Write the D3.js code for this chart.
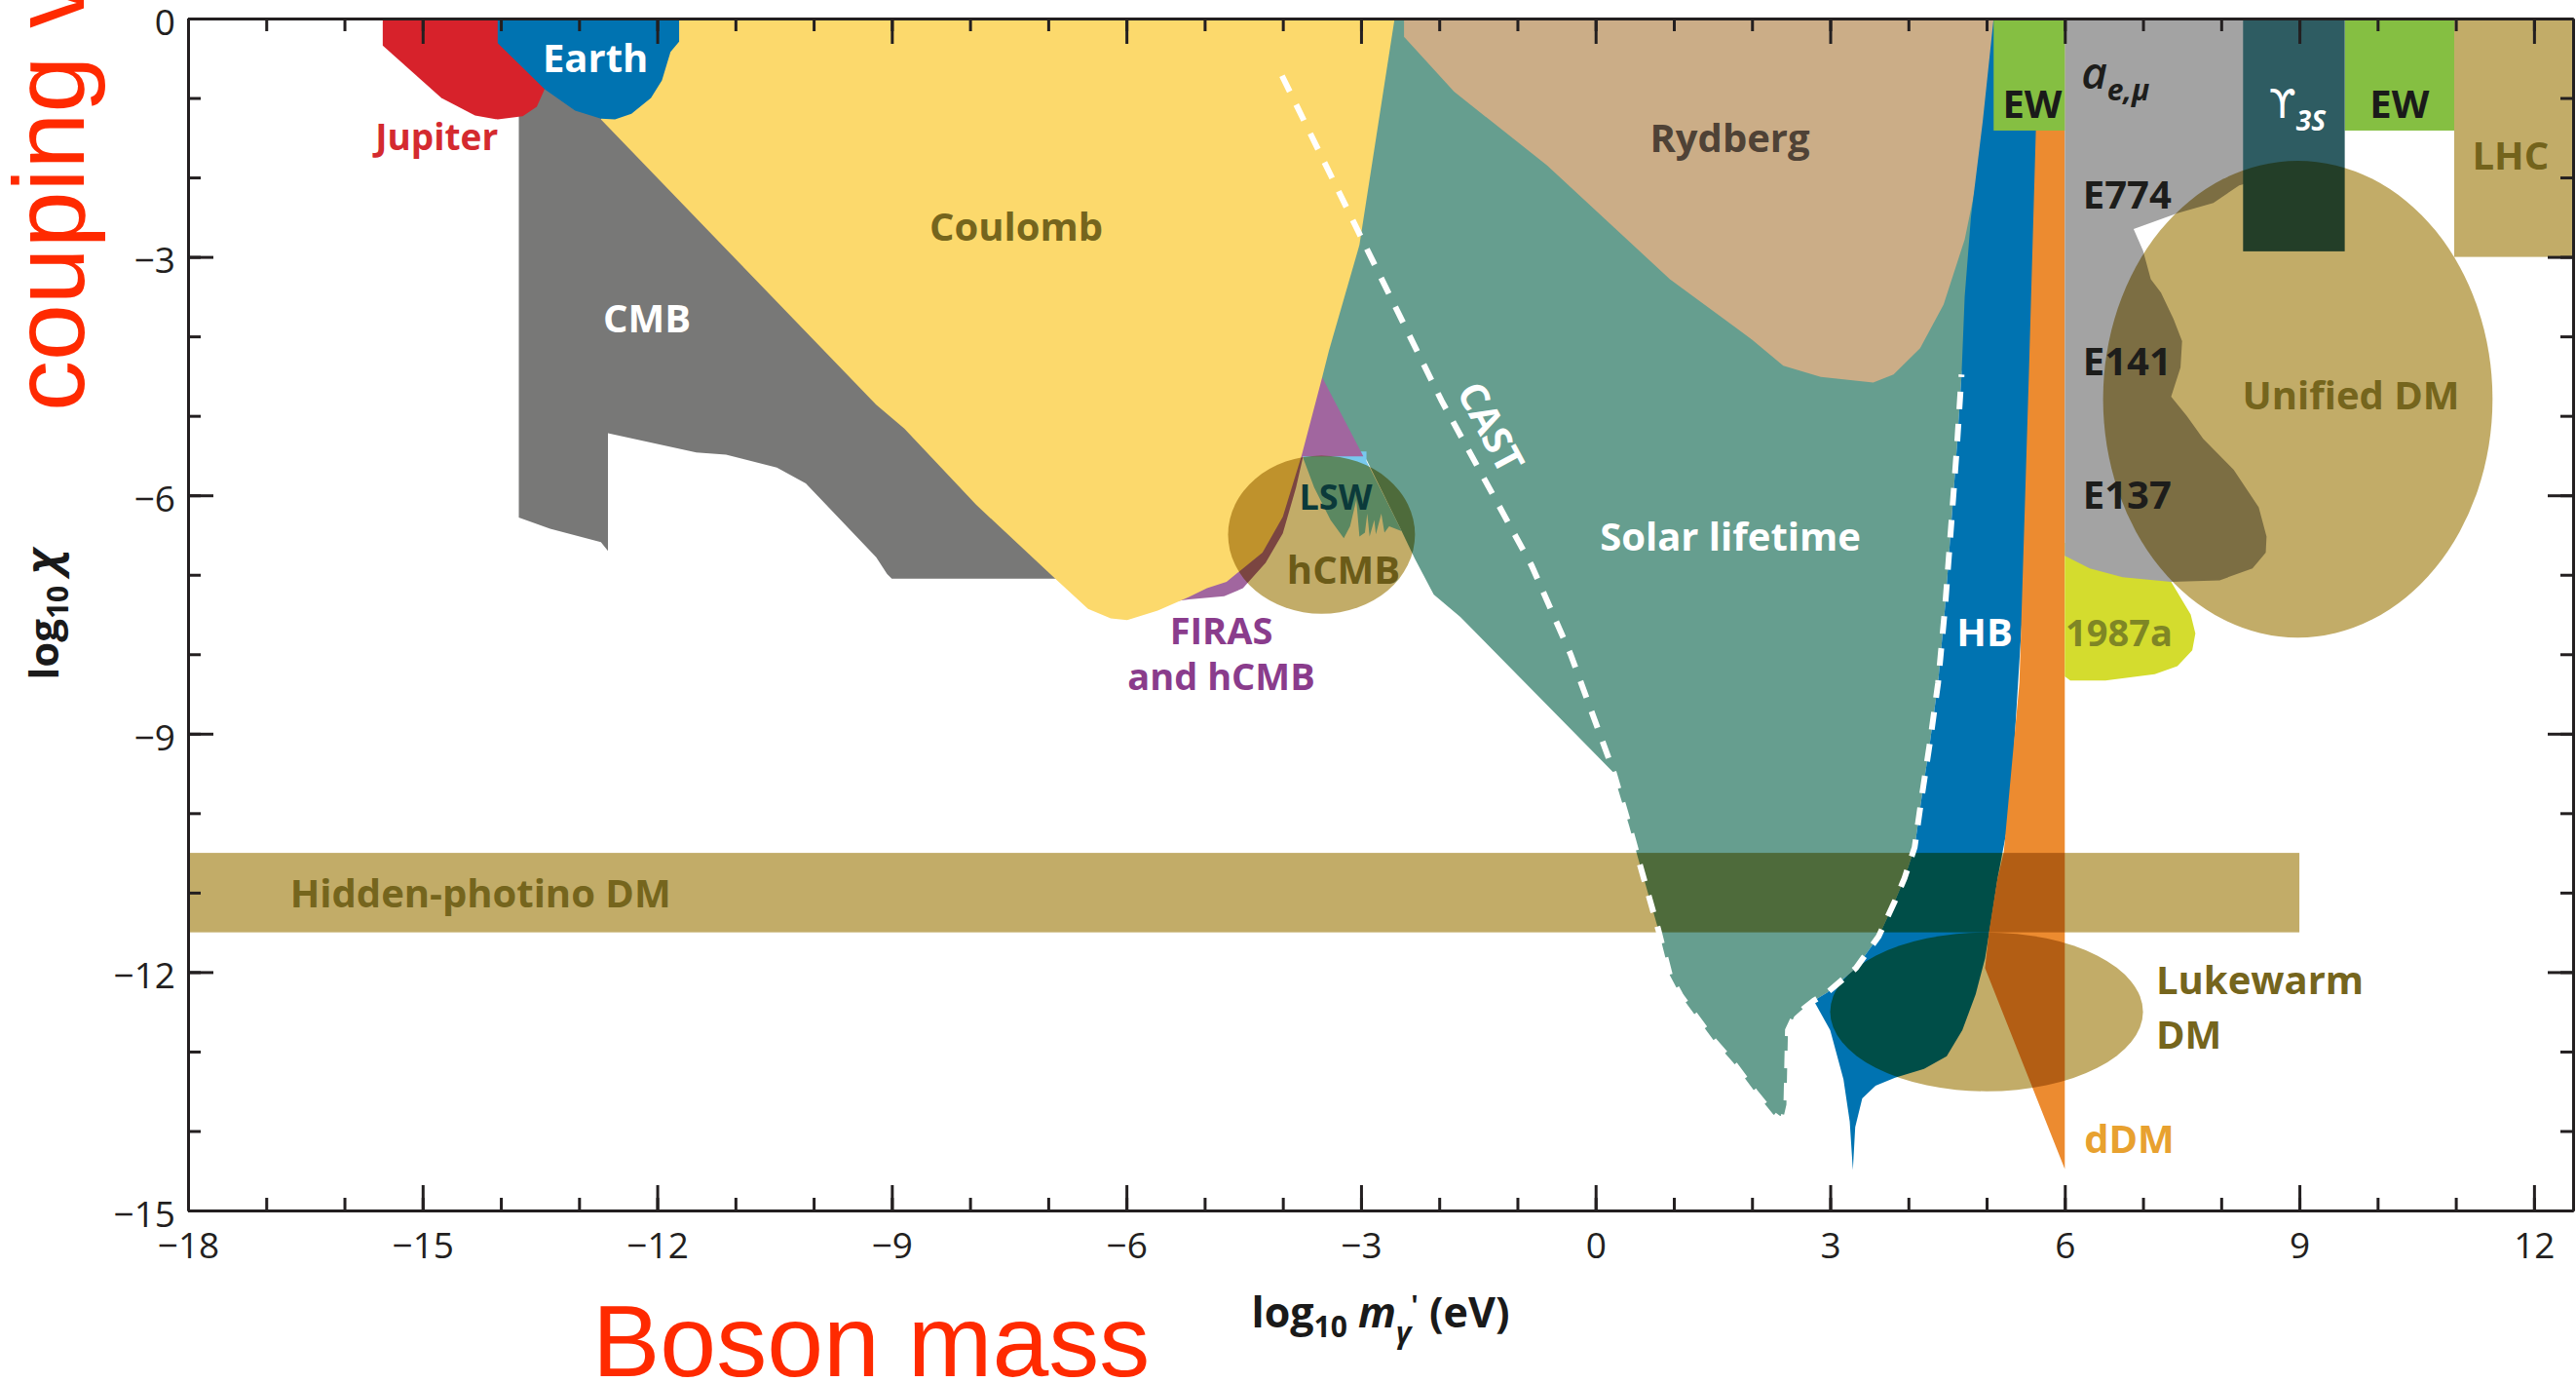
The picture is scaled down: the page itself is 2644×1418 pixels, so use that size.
<!DOCTYPE html>
<html>
<head>
<meta charset="utf-8">
<script src="https://cdn.jsdelivr.net/npm/d3@7"></script>
<style>
  html, body { margin: 0; padding: 0; background: #fff; }
  svg { display: block; }
</style>
</head>
<body>
<svg id="chart" width="2644" height="1418"></svg>
<script>
// ---- Excluded regions in the (log10 m, log10 chi) plane, as outlines ----
const jupiter = [[-15.51,0],[-13.3,0],[-13.44,-0.89],[-13.54,-1.11],[-13.72,-1.23],[-14.04,-1.27],[-14.33,-1.22],[-14.76,-1.0],[-15.51,-0.34]];
const earth = [[-14.04,0],[-11.72,0],[-11.72,-0.29],[-11.83,-0.42],[-11.94,-0.78],[-12.08,-1.0],[-12.33,-1.2],[-12.54,-1.27],[-12.72,-1.26],[-13.05,-1.16],[-13.44,-0.89],[-14.04,-0.31]];
const cmb = [[-13.77,-0.85],[-12.4,-0.95],[-9.0,-4.7],[-8.5,-5.4],[-7.5,-6.4],[-6.7,-7.05],[-9.0,-7.05],[-9.06,-6.99],[-9.2,-6.78],[-10.1,-5.85],[-10.47,-5.65],[-11.12,-5.49],[-11.5,-5.46],[-12.63,-5.22],[-12.63,-6.7],[-12.72,-6.59],[-13.37,-6.42],[-13.77,-6.28]];
const coulomb = [[-12.3,0],[-2.57,0],[-3.02,-2.85],[-3.41,-4.18],[-3.5,-4.53],[-3.76,-5.5],[-4.0,-6.27],[-4.26,-6.72],[-4.72,-7.09],[-4.97,-7.17],[-5.2,-7.28],[-5.6,-7.45],[-5.99,-7.57],[-6.2,-7.55],[-6.49,-7.43],[-6.91,-7.05],[-7.92,-6.12],[-8.84,-5.16],[-9.2,-4.86],[-12.72,-1.27],[-12.6,-1.0]];
const firas = [[-3.52,-4.45],[-3.49,-4.53],[-2.97,-5.51],[-3.74,-5.51],[-3.83,-5.9],[-4.0,-6.48],[-4.22,-6.85],[-4.51,-7.17],[-4.75,-7.27],[-5.2,-7.31],[-5.5,-7.35],[-4.8,-6.9],[-4.2,-6.2],[-3.8,-5.2]];
const lsw = [[-3.74,-5.45],[-2.93,-5.45],[-2.93,-5.57],[-2.48,-6.45],[-2.64,-6.39],[-2.7,-6.47],[-2.74,-6.23],[-2.81,-6.49],[-2.83,-6.31],[-2.89,-6.52],[-2.92,-6.23],[-2.95,-6.47],[-3.02,-6.52],[-3.06,-6.06],[-3.14,-6.39],[-3.22,-6.54],[-3.39,-6.31],[-3.6,-5.9],[-3.74,-5.53]];
const rydberg = [[-2.45,0],[5.09,0],[5.09,-0.7],[4.95,-1.68],[4.72,-2.78],[4.45,-3.6],[4.15,-4.15],[3.81,-4.48],[3.55,-4.58],[2.88,-4.51],[2.4,-4.37],[2.0,-4.04],[0.95,-3.28],[-0.62,-1.85],[-1.81,-0.92],[-2.45,-0.23]];
// horizontal-branch boundary, shared by the solar and HB regions
const hbEdge = [[4.68,-4.48],[4.62,-5.4],[4.55,-6.34],[4.47,-7.4],[4.38,-8.36],[4.28,-9.08],[4.17,-9.8],[4.08,-10.43],[3.95,-10.82],[3.83,-11.1],[3.62,-11.55],[3.33,-11.95],[2.96,-12.26]];
const solarTail = [[2.79,-12.36],[2.62,-12.49],[2.54,-12.56],[2.46,-12.73],[2.44,-13.67],[2.39,-13.88],[2.27,-13.79],[2.04,-13.51],[1.76,-13.14],[1.51,-12.86],[1.09,-12.3],[0.95,-12.04],[0.8,-11.46],[0.53,-10.52],[0.43,-10.16],[0.22,-9.48],[-1.73,-7.53],[-2.07,-7.25],[-2.31,-6.8],[-2.48,-6.45],[-2.93,-5.55],[-3.1,-5.48],[-3.6,-4.5],[-3.1,-2.85],[-2.65,0]];
const solarTop = [[5.2,0],[5.0,-2.0],[4.8,-3.6]];
const hbBand = [[5.09,0],[5.8,0],[5.55,-6],[5.3,-10],[5.14,-10.82],[5.06,-11.34],[4.98,-11.83],[4.86,-12.28],[4.69,-12.73],[4.49,-13.06],[4.2,-13.22],[3.83,-13.33],[3.58,-13.43],[3.41,-13.59],[3.32,-13.95],[3.29,-14.49],[3.25,-13.88],[3.17,-13.35],[3.0,-12.73],[2.79,-12.36]];
const hbTop = [[4.72,-3.5],[4.8,-2.5],[4.95,-1.3]];
const dDM = [[5.65,0],[6.0,0],[6.0,-14.48],[4.98,-11.95],[5.03,-11.5],[5.14,-10.82],[5.22,-10.49],[5.42,-8.36],[5.54,-4.5],[5.63,-1.41]];
const sn1987a = [[6.0,-6.6],[7.3,-6.9],[7.36,-7.09],[7.61,-7.5],[7.67,-7.74],[7.63,-7.95],[7.44,-8.15],[7.15,-8.25],[6.52,-8.33],[6.07,-8.33],[6.0,-8.28]];
const beamDump = [[6.0,0],[8.6,0],[8.6,-2.0],[8.23,-2.1],[7.9,-2.32],[7.44,-2.45],[6.88,-2.65],[7.0,-2.92],[7.1,-3.28],[7.23,-3.45],[7.39,-3.78],[7.5,-4.06],[7.48,-4.39],[7.36,-4.76],[7.56,-5.0],[7.77,-5.29],[8.16,-5.68],[8.48,-6.15],[8.58,-6.52],[8.57,-6.72],[8.4,-6.92],[7.98,-7.07],[7.36,-7.09],[6.74,-7.03],[6.32,-6.92],[6.0,-6.76]];
// rectangular bounds: [xMin, xMax, yMax, yMin]
const ewLow = [5.09, 6.0, 0, -1.41];
const ewHigh = [9.58, 10.98, 0, -1.41];
const upsilon3S = [8.28, 9.58, 0, -2.93];
const lhc = [10.98, 12.5, 0, -3.0];
const hiddenPhotino = [-18, 9, -10.5, -11.5];
// dark-matter ellipses: [centre x, centre y, half-width, half-height]
const hcmbDisc = [-3.505, -6.495, 1.195, 0.995];
const lukewarmDM = [5.0, -12.5, 2.0, 1.0];
const unifiedDM = [8.98, -4.79, 2.49, 3.0];
// CAST sensitivity curve (dashed)
const castCurve = [[-4.01,-0.72],[-3.04,-2.67],[-1.97,-4.81],[-0.82,-6.88],[-0.32,-8.0],[0.22,-9.45],[0.43,-10.16],[0.53,-10.52],[0.8,-11.46],[0.95,-12.04],[1.09,-12.3],[1.51,-12.86],[1.76,-13.14],[2.04,-13.51],[2.27,-13.79],[2.39,-13.88],[2.44,-13.67],[2.46,-12.73],[2.54,-12.56],[2.62,-12.49],[2.79,-12.36]];

// axis ticks
const xMajor = d3.range(-18, 13, 3);
const xMinor = d3.range(-18, 13, 1);
const yMajor = d3.range(-15, 1, 3);
const yMinor = d3.range(-15, 1, 1);

// region names and anchor points (data units)
const labelText = ["Jupiter","Earth","CMB","Coulomb","Rydberg","LSW","hCMB","FIRAS","and hCMB","Solar lifetime","HB","1987a","E774","E141","E137","EW","EW","LHC","Unified DM","Hidden-photino DM","Lukewarm","DM","dDM"];
const labelX = [-14.82,-12.79,-12.13,-7.41,1.717,-3.323,-3.223,-4.787,-4.787,1.723,4.975,6.694,6.23,6.23,6.23,5.585,10.28,11.70,9.66,-14.26,7.167,7.167,6.825];
const labelY = [-1.656,-0.671,-3.955,-2.796,-1.68,-6.18,-7.114,-7.87,-8.45,-6.697,-7.899,-7.899,-2.392,-4.489,-6.169,-1.256,-1.256,-1.901,-4.913,-11.186,-12.283,-12.958,-14.276];

// ---- drawing ----
const svg = d3.select("#chart");
const x = d3.scaleLinear().domain([-18, 12.5]).range([193, 2641]);
const y = d3.scaleLinear().domain([0, -15]).range([19, 1242]);
const line = d3.line().x(d => x(d[0])).y(d => y(d[1]));
const closed = pts => line(pts) + "Z";

svg.append("defs").append("clipPath").attr("id", "frame")
  .append("rect").attr("x", x(-18)).attr("y", y(0))
  .attr("width", x(12.5) - x(-18)).attr("height", y(-15) - y(0));

const plot = svg.append("g").attr("clip-path", "url(#frame)");

function region(pts, fill, multiply) {
  const p = plot.append("path").attr("d", closed(pts)).attr("fill", fill);
  if (multiply) p.style("mix-blend-mode", "multiply");
  return p;
}
function box(b, fill, multiply) {
  const r = plot.append("rect")
    .attr("x", x(b[0])).attr("width", x(b[1]) - x(b[0]))
    .attr("y", y(b[2])).attr("height", y(b[3]) - y(b[2]))
    .attr("fill", fill);
  if (multiply) r.style("mix-blend-mode", "multiply");
}
function oval(e, fill) {
  plot.append("ellipse")
    .attr("cx", x(e[0])).attr("cy", y(e[1]))
    .attr("rx", x(e[0] + e[2]) - x(e[0]))
    .attr("ry", y(e[1] - e[3]) - y(e[1]))
    .attr("fill", fill).style("mix-blend-mode", "multiply");
}

const OLIVE = "#c2ac68";

region(solarTop.concat(hbEdge, solarTail), "#669e8f");       // Solar lifetime
region(rydberg, "#cbad87");                                   // Rydberg
region(lsw, "#78c9ee");                                       // LSW
region(cmb, "#787877");                                       // CMB
region(firas, "#a1669f");                                     // FIRAS and hCMB
region(coulomb, "#fcd96c");                                   // Coulomb
region(jupiter, "#d7222b");                                   // Jupiter
region(earth, "#0073b1");                                     // Earth
region(hbBand.concat(hbEdge.slice().reverse(), hbTop), "#0073b1"); // HB
region(dDM, "#ec8b30");                                       // dDM
region(sn1987a, "#d4dc2e");                                   // 1987a
region(beamDump, "#a3a3a3");                                  // a_e,mu / E774 / E141 / E137
box(ewLow, "#85bf42");
box(ewHigh, "#85bf42");
box(upsilon3S, "#2e5c62");
box(lhc, OLIVE);
oval(hcmbDisc, OLIVE);
box(hiddenPhotino, OLIVE, true);
oval(lukewarmDM, OLIVE);
oval(unifiedDM, OLIVE);

// dashed CAST and HB boundaries
plot.append("path")
  .attr("d", line(castCurve.concat(hbEdge.slice().reverse())))
  .attr("fill", "none").attr("stroke", "#fff")
  .attr("stroke-width", 6).attr("stroke-dasharray", "18 15");

// ---- axes (ticks on all four sides, pointing inward) ----
const INK = "#231f20";
function dressAxis(g) {
  g.attr("font-family", "'Open Sans', 'DejaVu Sans', sans-serif").attr("font-size", 37);
  g.select(".domain").attr("stroke", INK).attr("stroke-width", 3);
  g.selectAll(".tick line").attr("stroke", INK).attr("stroke-width", 3);
  g.selectAll(".tick text").attr("fill", INK);
}
const axes = svg.append("g");
const frameBottom = y(-15), frameTop = y(0), frameLeft = x(-18), frameRight = x(12.5);

axes.append("g").attr("transform", `translate(0,${frameBottom})`)
  .call(d3.axisBottom(x).tickValues(xMinor).tickSizeInner(-13).tickSizeOuter(0).tickFormat(""))
  .call(dressAxis);
axes.append("g").attr("transform", `translate(0,${frameBottom})`)
  .call(d3.axisBottom(x).tickValues(xMajor).tickSizeInner(-26).tickSizeOuter(0).tickPadding(23))
  .call(dressAxis);
axes.append("g").attr("transform", `translate(0,${frameTop})`)
  .call(d3.axisTop(x).tickValues(xMinor).tickSizeInner(-13).tickSizeOuter(0).tickFormat(""))
  .call(dressAxis);
axes.append("g").attr("transform", `translate(0,${frameTop})`)
  .call(d3.axisTop(x).tickValues(xMajor).tickSizeInner(-26).tickSizeOuter(0).tickFormat(""))
  .call(dressAxis);
axes.append("g").attr("transform", `translate(${frameLeft},0)`)
  .call(d3.axisLeft(y).tickValues(yMinor).tickSizeInner(-13).tickSizeOuter(0).tickFormat(""))
  .call(dressAxis);
axes.append("g").attr("transform", `translate(${frameLeft},0)`)
  .call(d3.axisLeft(y).tickValues(yMajor).tickSizeInner(-26).tickSizeOuter(0).tickPadding(13))
  .call(dressAxis)
  .call(g => g.selectAll(".tick text").attr("dy", "0.44em"));
axes.append("g").attr("transform", `translate(${frameRight},0)`)
  .call(d3.axisRight(y).tickValues(yMinor).tickSizeInner(-13).tickSizeOuter(0).tickFormat(""))
  .call(dressAxis);
axes.append("g").attr("transform", `translate(${frameRight},0)`)
  .call(d3.axisRight(y).tickValues(yMajor).tickSizeInner(-26).tickSizeOuter(0).tickFormat(""))
  .call(dressAxis);

// axis titles
const FONT = "'Open Sans', 'DejaVu Sans', sans-serif";
const xt = svg.append("text").attr("x", (frameLeft + frameRight) / 2).attr("y", 1362)
  .attr("text-anchor", "middle").attr("font-family", FONT).attr("font-weight", 700)
  .attr("font-size", 43).attr("fill", "#1a1a1a");
xt.append("tspan").text("log");
xt.append("tspan").attr("font-size", 30).attr("dy", 10).text("10");
xt.append("tspan").attr("dy", -10).attr("font-style", "italic").text(" m");
xt.append("tspan").attr("font-size", 30).attr("dy", 16).attr("font-style", "italic").text("γ");
xt.append("tspan").attr("font-size", 28).attr("dy", -28).text("'");
xt.append("tspan").attr("dy", 12).text(" (eV)");

const yt = svg.append("text").attr("transform", `translate(60,${(frameTop + frameBottom) / 2}) rotate(-90)`)
  .attr("text-anchor", "middle").attr("font-family", FONT).attr("font-weight", 700)
  .attr("font-size", 42).attr("fill", "#1a1a1a");
yt.append("tspan").text("log");
yt.append("tspan").attr("font-size", 30).attr("dy", 10).text("10");
yt.append("tspan").attr("dy", -10).attr("font-style", "italic").attr("font-size", 46).text(" χ");

// ---- region labels ----
const labelColor = ["#d42a2f","#ffffff","#ffffff","#75651d","#4f4236","#0b3a3a","#6b5b18","#8a3c8c","#8a3c8c","#ffffff","#ffffff","#7f8625","#1d1d1b","#1d1d1b","#1d1d1b","#1a1a1a","#1a1a1a","#73631c","#75651d","#75651d","#75651d","#75651d","#e8a12f"];
const labelAnchor = ["middle","middle","middle","middle","middle","middle","middle","middle","middle","middle","middle","middle","start","start","start","middle","middle","middle","middle","middle","start","start","middle"];
const labelSize = [37,40,40,40,40,36,40,38,38,40,40,38,40,40,40,40,40,40,40,40,40,40,40];

const lbl = svg.append("g").attr("font-family", FONT).attr("font-weight", 700);
labelText.forEach((t, i) => {
  lbl.append("text").attr("x", x(labelX[i])).attr("y", y(labelY[i]))
    .attr("text-anchor", labelAnchor[i]).attr("font-size", labelSize[i])
    .attr("fill", labelColor[i]).text(t);
});
// CAST, written along its curve
lbl.append("text").attr("transform", `translate(${x(-1.38)},${y(-5.164)}) rotate(62)`)
  .attr("text-anchor", "middle").attr("dominant-baseline", "middle")
  .attr("font-size", 40).attr("fill", "#fff").text("CAST");
// a_{e,mu}
const ae = lbl.append("text").attr("x", x(6.21)).attr("y", y(-0.889)).attr("fill", "#1d1d1b");
ae.append("tspan").attr("font-size", 46).attr("font-style", "italic").attr("font-weight", 600).text("a");
ae.append("tspan").attr("font-size", 30).attr("font-style", "italic").attr("dy", 12).text("e,μ");
// Upsilon(3S)
const ups = lbl.append("text").attr("x", x(8.61)).attr("y", y(-1.245)).attr("fill", "#fff");
ups.append("tspan").attr("font-family", "'DejaVu Sans', sans-serif").attr("font-size", 40).attr("font-weight", 400).text("ϒ");
ups.append("tspan").attr("font-size", 28).attr("font-style", "italic").attr("dy", 13).text("3S");

// ---- annotations ----
svg.append("text").attr("transform", "translate(86,422) rotate(-90)")
  .attr("font-family", "'Liberation Sans', Arial, sans-serif").attr("font-size", 104)
  .attr("fill", "#ff2a00").text("couping v");
svg.append("text").attr("x", 608).attr("y", 1412)
  .attr("font-family", "'Liberation Sans', Arial, sans-serif").attr("font-size", 104)
  .attr("fill", "#ff2a00").text("Boson mass");
</script>
</body>
</html>
